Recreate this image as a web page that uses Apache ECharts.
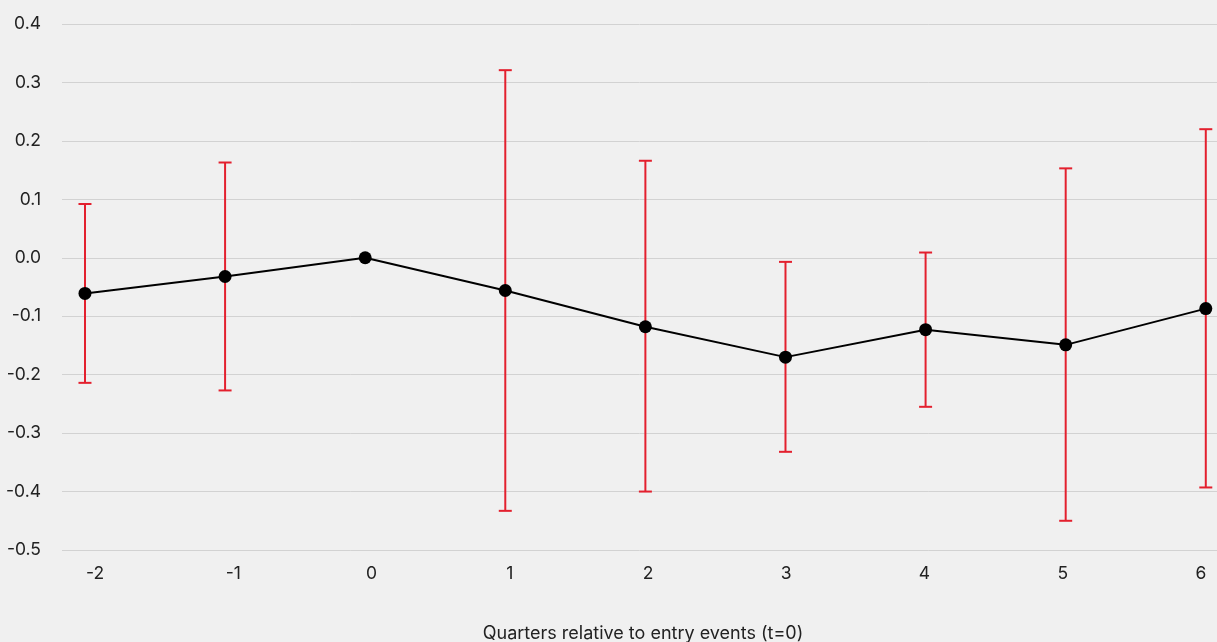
<!DOCTYPE html>
<html>
<head>
<meta charset="utf-8">
<script src="https://cdn.jsdelivr.net/npm/echarts@6/dist/echarts.min.js"></script>
<style>
  html, body { margin: 0; padding: 0; background: #f0f0f0; }
  #chart { width: 1217px; height: 642px; }
</style>
</head>
<body>
<div id="chart"></div>
<script>
// Event-study estimates by quarter relative to entry, with confidence intervals
const quarters = [-2, -1, 0, 1, 2, 3, 4, 5, 6];
const quarterLabels = ['-2', '-1', '0', '1', '2', '3', '4', '5', '6'];
const estimates = [-0.061, -0.032, 0.0, -0.056, -0.118, -0.170, -0.123, -0.149, -0.087];
const upperBound = [0.092, 0.163, null, 0.321, 0.166, -0.007, 0.009, 0.153, 0.220];
const lowerBound = [-0.214, -0.227, null, -0.433, -0.400, -0.332, -0.255, -0.450, -0.393];

const FONT = 'Inter, "Noto Sans", sans-serif';
const FONT_SIZE = 17.5;

const pointData = quarters.map((q, i) => [q, estimates[i]]);
const barData = quarters
  .map((q, i) => [q, lowerBound[i], upperBound[i]])
  .filter(d => d[1] !== null && d[2] !== null);

const chart = echarts.init(document.getElementById('chart'));
chart.setOption({
  backgroundColor: '#f0f0f0',
  animation: false,
  grid: [
    { left: 62, right: 0, top: 24, bottom: 92, outerBoundsMode: 'none', containLabel: false },
    { left: 95, right: 16, top: 24, bottom: 92, outerBoundsMode: 'none', containLabel: false }
  ],
  xAxis: [
    {
      type: 'value', gridIndex: 0, min: -2.164, max: 6.08,
      axisLine: { show: false }, axisTick: { show: false },
      axisLabel: { show: false }, splitLine: { show: false },
      name: 'Quarters relative to entry events (t=0)',
      nameLocation: 'middle', nameGap: 75,
      nameTextStyle: { fontFamily: FONT, fontSize: 18, color: '#222', verticalAlign: 'top', padding: [0, 0, 0, 7] }
    },
    {
      type: 'category', gridIndex: 1, data: quarterLabels, boundaryGap: false,
      axisLine: { show: false }, axisTick: { show: false }, splitLine: { show: false },
      axisLabel: { fontFamily: FONT, fontSize: FONT_SIZE, color: '#222', margin: 15, interval: 0 }
    }
  ],
  yAxis: [
    {
      type: 'value', gridIndex: 0, min: -0.5, max: 0.4, interval: 0.1,
      axisLine: { show: false }, axisTick: { show: false },
      axisLabel: {
        fontFamily: FONT, fontSize: FONT_SIZE, color: '#222', margin: 21,
        formatter: v => v.toFixed(1)
      },
      splitLine: { lineStyle: { color: '#d2d2d2', width: 1 } }
    },
    {
      type: 'value', gridIndex: 1, min: -0.5, max: 0.4, show: false
    }
  ],
  series: [
    {
      type: 'custom', xAxisIndex: 0, yAxisIndex: 0, z: 2,
      data: barData,
      renderItem: function (params, api) {
        const x = api.value(0);
        const lo = api.coord([x, api.value(1)]);
        const hi = api.coord([x, api.value(2)]);
        const half = 6.5;
        const style = { stroke: '#e3202e', lineWidth: 2 };
        return {
          type: 'group',
          children: [
            { type: 'line', shape: { x1: lo[0], y1: lo[1], x2: hi[0], y2: hi[1] }, style },
            { type: 'line', shape: { x1: hi[0] - half, y1: hi[1], x2: hi[0] + half, y2: hi[1] }, style },
            { type: 'line', shape: { x1: lo[0] - half, y1: lo[1], x2: lo[0] + half, y2: lo[1] }, style }
          ]
        };
      }
    },
    {
      type: 'line', xAxisIndex: 0, yAxisIndex: 0, z: 3,
      data: pointData,
      symbol: 'circle', symbolSize: 13,
      lineStyle: { color: '#000', width: 2 },
      itemStyle: { color: '#000' }
    }
  ]
});
</script>
</body>
</html>
